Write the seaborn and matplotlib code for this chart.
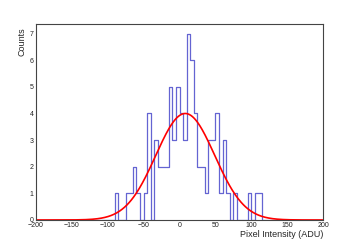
import numpy as np
import pandas as pd
import matplotlib
matplotlib.use("Agg")
import matplotlib.pyplot as plt
from matplotlib.ticker import MultipleLocator
import seaborn as sns

sns.set_style("white")
plt.rcParams['font.family'] = ['Liberation Sans', 'DejaVu Sans']

# histogram: 5 ADU bins from -200 to 200, counts
bin_lo = [-90, -75, -70, -65, -60, -50, -45, -35, -30, -25, -20, -15, -10, -5,
          0, 5, 10, 15, 20, 25, 30, 35, 40, 45, 50, 55, 60, 65, 75, 95, 105, 110]
bin_counts = [1, 1, 1, 2, 1, 1, 4, 3, 2, 2, 2, 5, 3, 5,
              4, 3, 7, 6, 4, 2, 2, 1, 3, 3, 4, 1, 3, 1, 1, 1, 1, 1]
bin_width = 5
x_min, x_max = -200, 200

# gaussian fit parameters
fit_amp = 4.0
fit_mean = 8.0
fit_sigma = 41.0

df = pd.DataFrame({"x": np.array(bin_lo, dtype=float) + bin_width / 2,
                   "w": np.array(bin_counts, dtype=float)})

fig = plt.figure(figsize=(3.59, 2.44), dpi=100)
ax = fig.add_axes([0.0994, 0.0984, 0.8012, 0.802])

sns.histplot(data=df, x="x", weights="w", binwidth=bin_width, binrange=(x_min, x_max),
             element="step", fill=False, color="#6464d2", linewidth=0.9, ax=ax)

xf = np.linspace(x_min, x_max, 500)
fit = pd.DataFrame({"x": xf, "y": fit_amp * np.exp(-0.5 * ((xf - fit_mean) / fit_sigma) ** 2)})
sns.lineplot(data=fit, x="x", y="y", color="#ff0000", linewidth=1.2, ax=ax)

ax.set_xlim(x_min, x_max)
ax.set_ylim(0, 7.35)
ax.xaxis.set_major_locator(MultipleLocator(50))
ax.xaxis.set_minor_locator(MultipleLocator(10))
ax.yaxis.set_major_locator(MultipleLocator(1))
ax.yaxis.set_minor_locator(MultipleLocator(0.2))
ax.tick_params(which="both", direction="in", top=False, right=False,
               labelsize=5, colors="#222222", pad=1.5, width=0.6)
ax.tick_params(axis="x", which="major", length=3)
ax.tick_params(axis="x", which="minor", length=1.5)
ax.tick_params(axis="y", which="major", length=4)
ax.tick_params(axis="y", which="minor", length=2)
for s in ax.spines.values():
    s.set_color("#444444")
    s.set_linewidth(0.8)

ax.set_xlabel("Pixel Intensity (ADU)", fontsize=6.5, loc="right", labelpad=1)
ax.set_ylabel("Counts", fontsize=6.5, loc="top")
ax.yaxis.set_label_coords(-0.033, 0.985)
ax.grid(False)

fig.savefig("out.png", dpi=100)
